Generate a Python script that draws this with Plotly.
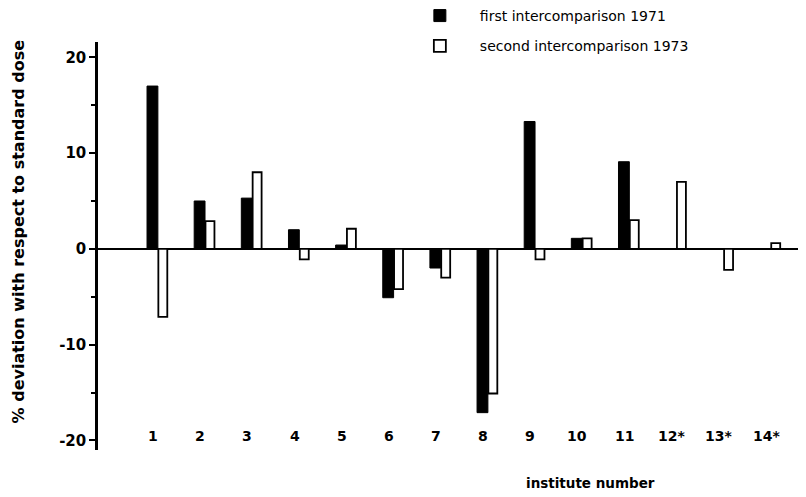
"""
Deviation of measured dose from the standard dose, per institute,
for the 1971 and 1973 intercomparisons.
"""

import plotly.graph_objects as go

INSTITUTES = ["1", "2", "3", "4", "5", "6", "7", "8", "9", "10", "11", "12*", "13*", "14*"]
FIRST_1971 = [17, 5, 5.3, 2, 0.4, -5.1, -2, -17.1, 13.3, 1.1, 9.1, None, None, None]
SECOND_1973 = [-7.1, 2.9, 8, -1.1, 2.1, -4.2, -3, -15.1, -1.1, 1.1, 3, 7, -2.2, 0.6]
Y_TICKS = [-20, -10, 0, 10, 20]

FONT = "DejaVu Sans"
pos = list(range(1, len(INSTITUTES) + 1))

fig = go.Figure()
fig.add_trace(
    go.Bar(
        x=pos,
        y=FIRST_1971,
        width=0.23,
        offset=-0.13,
        name="first intercomparison 1971",
        legendgroup="a",
        marker={"color": "black", "line": {"color": "black", "width": 1}},
    )
)
fig.add_trace(
    go.Bar(
        x=pos,
        y=SECOND_1973,
        width=0.19,
        offset=0.11,
        name="second intercomparison 1973",
        legendgroup="b",
        marker={"color": "white", "line": {"color": "black", "width": 1.8}},
    )
)

# category labels sit inside the plot, just above the bottom of the y axis
for p, label in zip(pos, INSTITUTES):
    fig.add_annotation(
        x=p,
        y=-19.5,
        text=label,
        showarrow=False,
        font={"family": FONT, "size": 14, "color": "black", "weight": "bold"},
    )

fig.add_annotation(
    x=0.702,
    y=-0.08,
    xref="paper",
    yref="paper",
    xanchor="center",
    yanchor="middle",
    text="institute number",
    showarrow=False,
    font={"family": FONT, "size": 13.5, "color": "black", "weight": "bold"},
)

fig.add_annotation(
    x=-0.113,
    y=0.535,
    xref="paper",
    yref="paper",
    xanchor="center",
    yanchor="middle",
    textangle=-90,
    text="% deviation with respect to standard dose",
    showarrow=False,
    font={"family": FONT, "size": 16, "color": "black", "weight": "bold"},
)

fig.update_layout(
    width=798,
    height=489,
    margin={"l": 90, "r": 6, "t": 34, "b": 47, "autoexpand": False},
    plot_bgcolor="white",
    paper_bgcolor="white",
    barmode="overlay",
    font={"family": FONT, "color": "black"},
    showlegend=True,
    legend={
        "x": 0.43,
        "y": 1.103,
        "xanchor": "left",
        "yanchor": "top",
        "traceorder": "grouped",
        "tracegroupgap": 9,
        "itemwidth": 70,
        "font": {"family": FONT, "size": 14, "color": "black"},
        "bgcolor": "rgba(0,0,0,0)",
    },
    xaxis={
        "range": [-0.17, 14.72],
        "showticklabels": False,
        "showgrid": False,
        "zeroline": False,
        "showline": False,
        "ticks": "",
    },
    yaxis={
        "range": [-21, 21.6],
        "tickvals": Y_TICKS,
        "ticktext": [str(v) for v in Y_TICKS],
        "ticks": "outside",
        "ticklen": 6,
        "tickwidth": 2,
        "tickcolor": "black",
        "minor": {"dtick": 5, "ticks": "outside", "ticklen": 4, "tickwidth": 2, "tickcolor": "black"},
        "showgrid": False,
        "showline": True,
        "linecolor": "black",
        "linewidth": 2.5,
        "zeroline": True,
        "zerolinecolor": "black",
        "zerolinewidth": 2,
        "tickfont": {"family": FONT, "size": 15, "color": "black", "weight": "bold"},
    },
)

fig.write_html("out.html")
